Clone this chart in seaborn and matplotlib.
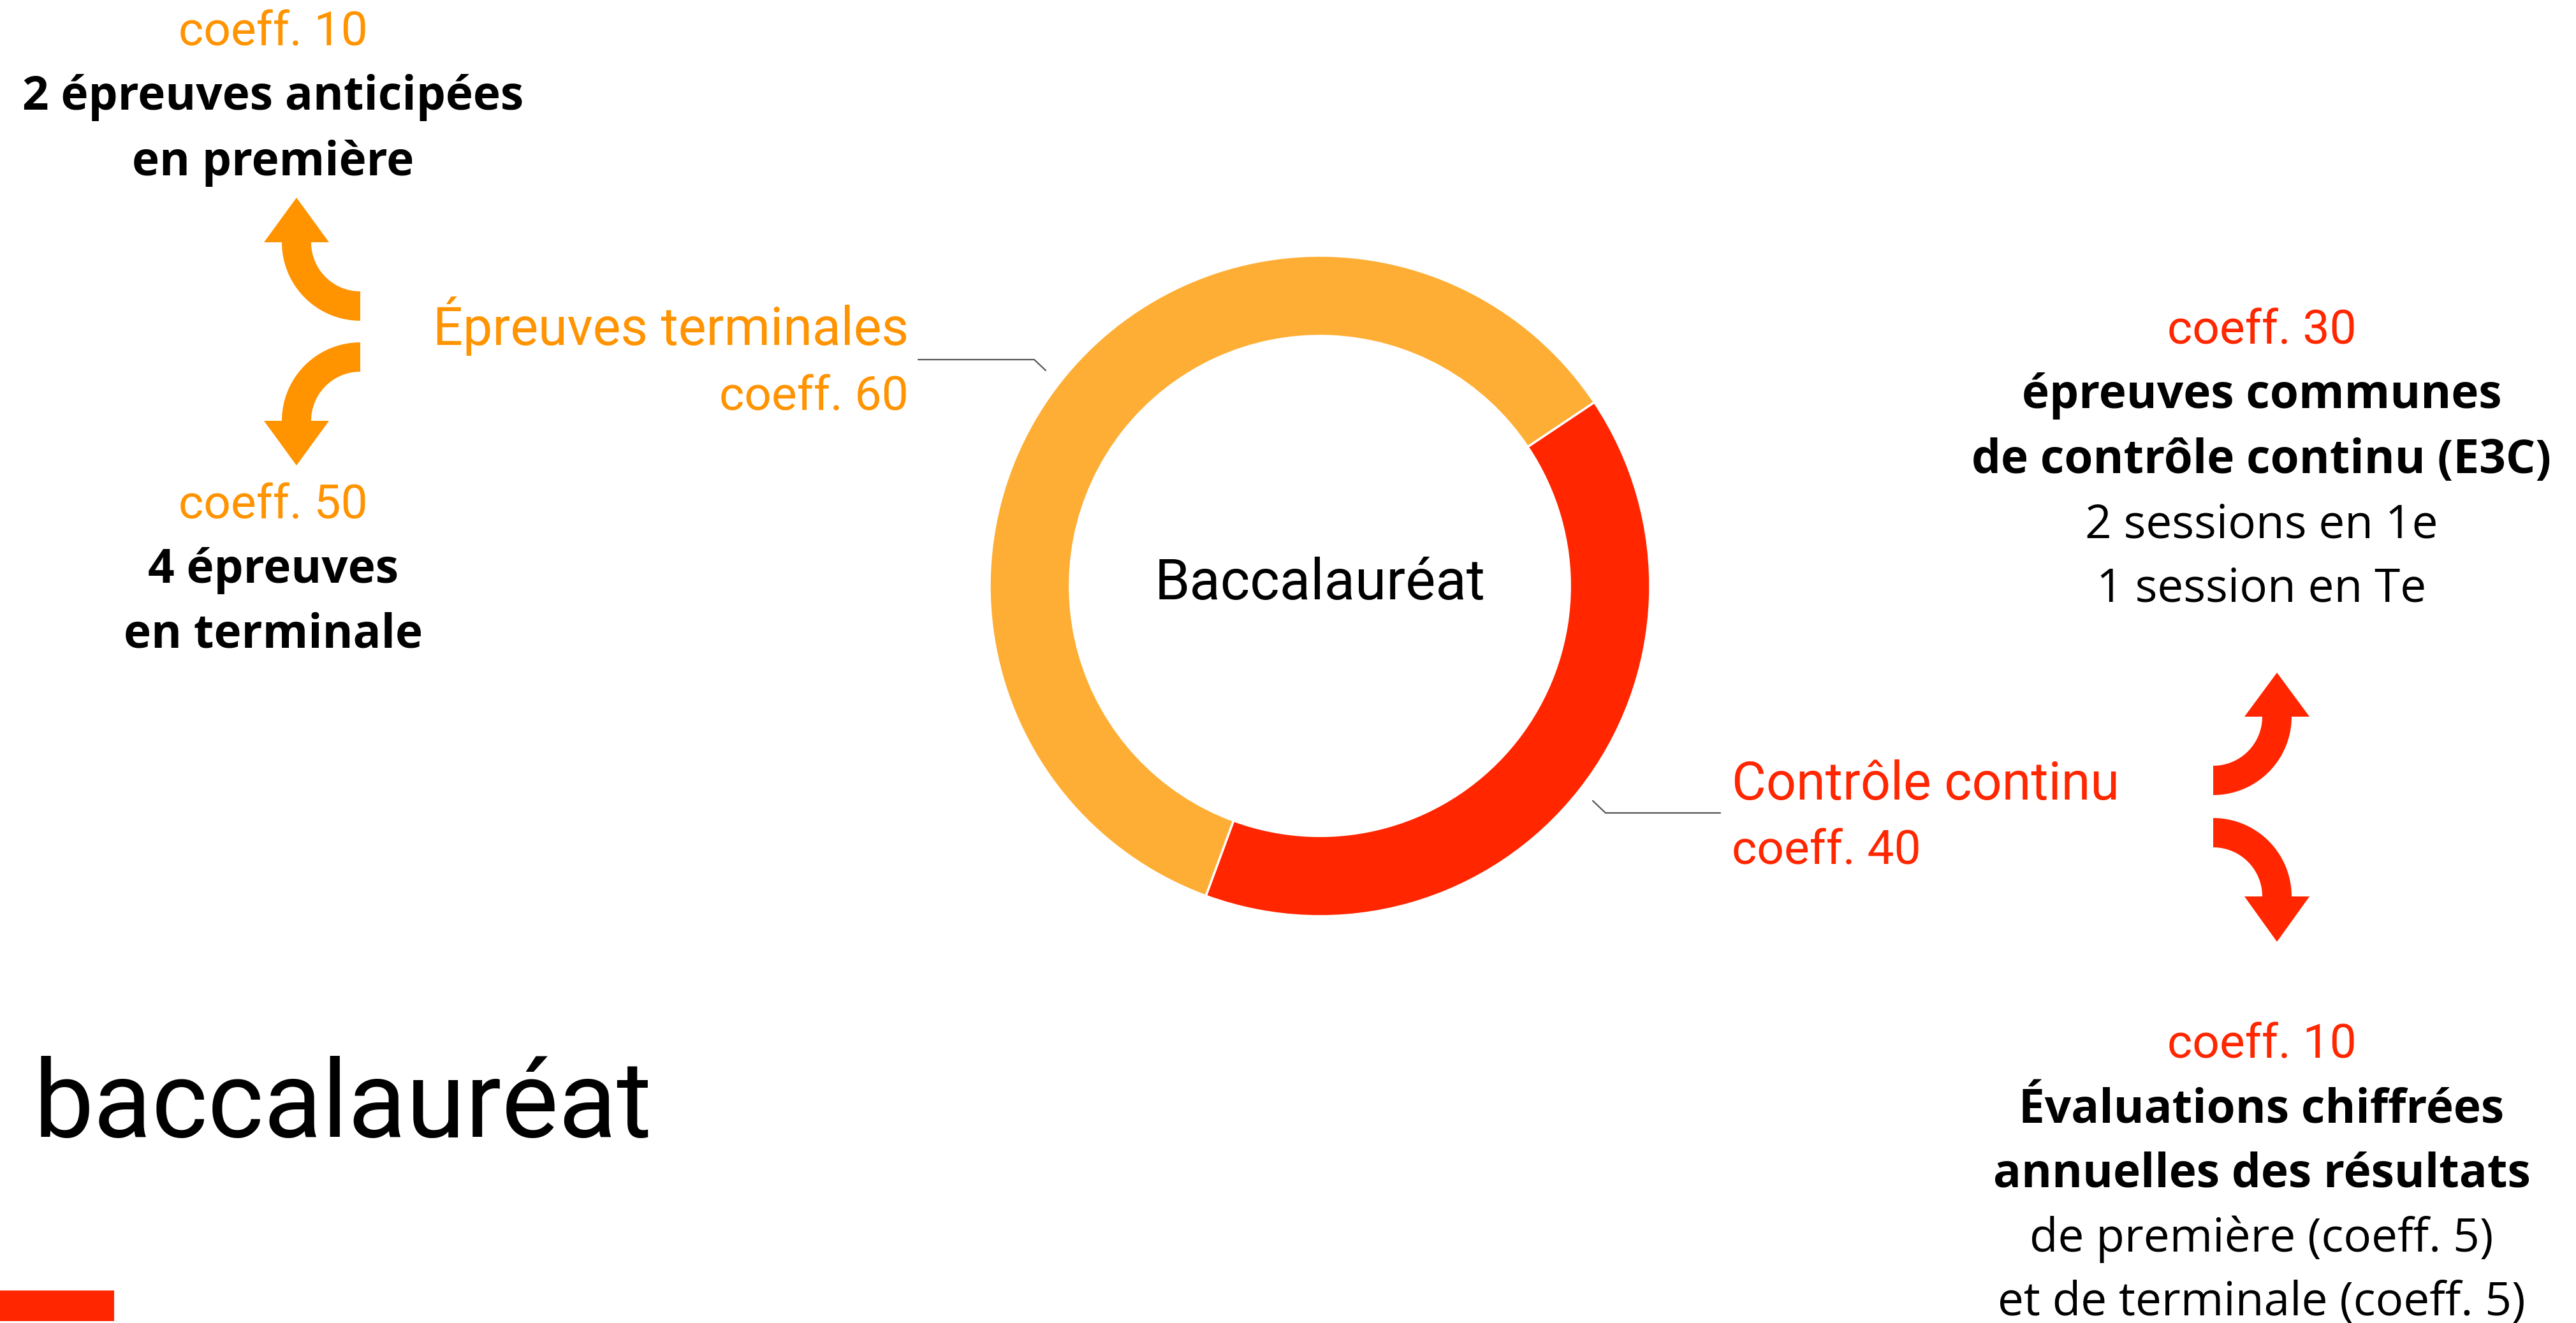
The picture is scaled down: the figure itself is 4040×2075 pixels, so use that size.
import numpy as np
import matplotlib
matplotlib.use("Agg")
import matplotlib.pyplot as plt
from matplotlib.patches import Polygon, Rectangle
import seaborn as sns

# Data: how the baccalauréat grade is split
parts = ["Contrôle continu", "Épreuves terminales"]
coeffs = [40, 60]
part_colors = ["#FF2600", "#FEAE34"]

term_sub = [10, 50]          # épreuves anticipées / épreuves en terminale
cc_sub = [30, 10]            # E3C / évaluations chiffrées
eval_sub = [5, 5]            # première / terminale

W, H = 4040, 2075
ORANGE = "#FF9300"
RED = "#FF2600"
BODY = "Open Sans"
BS = 52.5    # body text size
LS = 59.5    # label size

sns.set_theme(style="white")
plt.rcParams["font.family"] = ["Roboto", "DejaVu Sans"]

fig = plt.figure(figsize=(W / 100, H / 100), dpi=100)
ax = fig.add_axes([0, 0, 1, 1])

# donut
cx, cy, R = 2070, H - 919, 518
ax.pie(coeffs, colors=part_colors, startangle=33.8, counterclock=False,
       radius=R, center=(cx, cy),
       wedgeprops=dict(width=0.243 * R, edgecolor="white", linewidth=2.5))
ax.set_xlim(0, W)
ax.set_ylim(0, H)
ax.set_aspect("equal")
ax.axis("off")


def txt(x, y, s, size, color="black", ha="center", family="Roboto", weight="normal"):
    ax.text(x, H - y, s, fontsize=size, color=color, ha=ha, va="baseline",
            family=[family, "DejaVu Sans"], fontweight=weight)


def curved_arrow(c, r, a0, a1, up, color, hw=23, head_w=102, head_len=70):
    t = np.radians(np.linspace(a0, a1, 60))
    outer = np.c_[c[0] + (r + hw) * np.cos(t), c[1] + (r + hw) * np.sin(t)]
    inner = np.c_[c[0] + (r - hw) * np.cos(t), c[1] + (r - hw) * np.sin(t)][::-1]
    ax.add_patch(Polygon(np.vstack([outer, inner]), closed=True, fc=color, ec="none"))
    px, py = c[0] + r * np.cos(t[-1]), c[1] + r * np.sin(t[-1])
    d = 1 if up else -1
    ax.add_patch(Polygon([[px - head_w / 2, py], [px + head_w / 2, py],
                          [px, py + d * head_len]], closed=True, fc=color, ec="none"))


# centre + main labels
txt(cx, 940, "Baccalauréat", 64)
txt(1425, 541, parts[1], LS, ORANGE, ha="right")
txt(1425, 644, f"coeff. {coeffs[1]}", 54, ORANGE, ha="right")
txt(2716, 1254, parts[0], LS, RED, ha="left")
txt(2716, 1355, f"coeff. {coeffs[0]}", 54, RED, ha="left")

# leader lines
ax.plot([1440, 1622, 1640], [H - 564, H - 564, H - 581], color="#555555", lw=1.6)
ax.plot([2498, 2518, 2698], [H - 1256, H - 1275, H - 1275], color="#555555", lw=1.6)

# left column (épreuves terminales)
lx = 428
txt(lx, 72, f"coeff. {term_sub[0]}", 54, ORANGE)
txt(lx, 172, "2 épreuves anticipées", BS, family=BODY, weight="bold")
txt(lx, 275, "en première", BS, family=BODY, weight="bold")
txt(lx, 814, f"coeff. {term_sub[1]}", 54, ORANGE)
txt(lx, 914, "4 épreuves", BS, family=BODY, weight="bold")
txt(lx, 1015, "en terminale", BS, family=BODY, weight="bold")
curved_arrow((565, H - 380), 100, 270, 180, True, ORANGE)
curved_arrow((565, H - 660), 100, 90, 180, False, ORANGE)

# right column (contrôle continu)
rx = 3547
txt(rx, 539, f"coeff. {cc_sub[0]}", 54, RED)
txt(rx, 640, "épreuves communes", BS, family=BODY, weight="bold")
txt(rx, 742, "de contrôle continu (E3C)", BS, family=BODY, weight="bold")
txt(rx, 843, "2 sessions en 1e", BS, family=BODY)
txt(rx, 943, "1 session en Te", BS, family=BODY)
txt(rx, 1660, f"coeff. {cc_sub[1]}", 54, RED)
txt(rx, 1761, "Évaluations chiffrées", BS, family=BODY, weight="bold")
txt(rx, 1862, "annuelles des résultats", BS, family=BODY, weight="bold")
txt(rx, 1963, f"de première (coeff. {eval_sub[0]})", BS, family=BODY)
txt(rx, 2063, f"et de terminale (coeff. {eval_sub[1]})", BS, family=BODY)
curved_arrow((3471, H - 1124), 100, 270, 360, True, RED, head_len=69)
curved_arrow((3471, H - 1406), 100, 90, 0, False, RED, head_len=71)

# title + red tab
txt(52, 1783, "baccalauréat", 121, ha="left")
ax.add_patch(Rectangle((0, H - 2072), 179, 48, fc=RED, ec="none"))

fig.savefig("out.png", dpi=100, facecolor="white")
